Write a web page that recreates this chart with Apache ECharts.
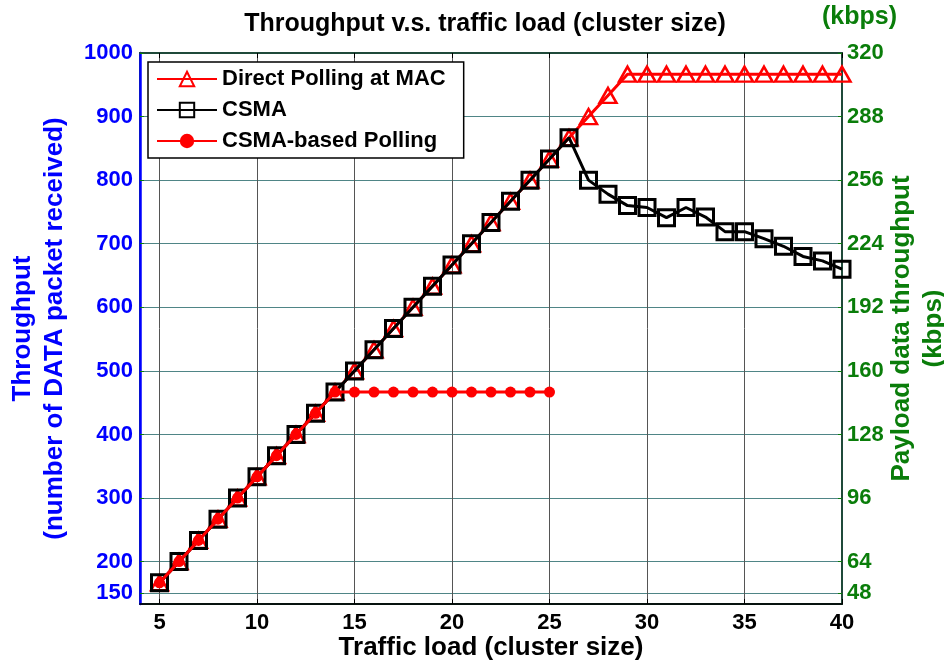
<!DOCTYPE html>
<html><head><meta charset="utf-8">
<script src="https://cdn.jsdelivr.net/npm/echarts@6/dist/echarts.min.js"></script>
<style>html,body{margin:0;padding:0;background:#fff}#c{width:944px;height:667px}</style>
</head><body><div id="c"></div>
<script>
const loads = [5,6,7,8,9,10,11,12,13,14,15,16,17,18,19,20,21,22,23,24,25,26,27,28,29,30,31,32,33,34,35,36,37,38,39,40];
const directPolling = [166.7,200,233.3,266.7,300,333.3,366.7,400,433.3,466.7,500,533.3,566.7,600,633.3,666.7,700,733.3,766.7,800,833.3,866.7,900,933.3,966.7,966.7,966.7,966.7,966.7,966.7,966.7,966.7,966.7,966.7,966.7,966.7];
const csma = [166.7,200,233.3,266.7,300,333.3,366.7,400,433.3,466.7,500,533.3,566.7,600,633.3,666.7,700,733.3,766.7,800,833.3,866.7,800,778,760,757,741,757,742,719,719,708,696,680,673,660];
const csmaPolling = [166.7,200,233.3,266.7,300,333.3,366.7,400,433.3,466.7,466.7,466.7,466.7,466.7,466.7,466.7,466.7,466.7,466.7,466.7,466.7];
const xTicks = [5,10,15,20,25,30,35,40];
const leftTicks = [150,200,300,400,500,600,700,800,900,1000];
const rightTicks = [48,64,96,128,160,192,224,256,288,320];
const leftMin = 133.33, leftMax = 1000, kbpsPerPacket = 0.32;

const BLUE = '#0000ff', GREEN = '#0a7d0a', FONT = 'Liberation Sans';
const pairs = (ys) => ys.map((y, i) => [loads[i], y]);

const chart = echarts.init(document.getElementById('c'), null, {renderer: 'canvas'});
chart.setOption({
  animation: false,
  backgroundColor: '#fff',
  title: {
    text: 'Throughput v.s. traffic load (cluster size)',
    left: 480, top: 7, textAlign: 'center',
    textStyle: {fontFamily: FONT, fontWeight: 'bold', fontSize: 25, color: '#000'}
  },
  graphic: [{
    type: 'text', left: 822, top: 5,
    style: {text: '(kbps)', fontFamily: FONT, fontWeight: 'bold', fontSize: 25, fill: GREEN}
  }],
  grid: {left: 140, right: 102, top: 53, bottom: 63, outerBoundsMode: 'none', containLabel: false,
    show: true, borderColor: '#1f4a3a', borderWidth: 2, backgroundColor: 'transparent'},
  legend: {
    orient: 'vertical', left: 148, top: 62, itemGap: 9, itemWidth: 60, itemHeight: 18,
    padding: [6, 18, 6, 8], borderColor: '#000', borderWidth: 1.5, backgroundColor: '#fff',
    textStyle: {fontFamily: FONT, fontWeight: 'bold', fontSize: 22, color: '#000'},
    data: ['Direct Polling at MAC', 'CSMA', 'CSMA-based Polling']
  },
  xAxis: [{
    type: 'value', min: 4, max: 40,
    name: 'Traffic load (cluster size)', nameLocation: 'middle', nameGap: 31, nameMoveOverlap: false,
    nameTextStyle: {fontFamily: FONT, fontWeight: 'bold', fontSize: 26, color: '#000'},
    axisLine: {show: true, onZero: false, lineStyle: {color: '#000', width: 1.5}},
    axisTick: {show: true, inside: true, length: 5, customValues: xTicks, lineStyle: {color: '#000'}},
    axisLabel: {customValues: xTicks, fontFamily: FONT, fontWeight: 'bold', fontSize: 22, color: '#000', margin: 8},
    splitLine: {show: true, lineStyle: {color: '#555', width: 1}}
  }, {
    type: 'value', min: 4, max: 40, position: 'top',
    axisLine: {show: true, lineStyle: {color: '#1f4a3a', width: 2}},
    axisTick: {show: true, inside: true, length: 5, customValues: xTicks, lineStyle: {color: '#000'}},
    axisLabel: {show: false}, splitLine: {show: false}
  }],
  yAxis: [{
    type: 'value', min: leftMin, max: leftMax, position: 'left',
    name: 'Throughput\n(number of DATA packet received)', nameLocation: 'middle', nameGap: 69, nameRotate: 90, nameMoveOverlap: false,
    nameTextStyle: {fontFamily: FONT, fontWeight: 'bold', fontSize: 26, color: BLUE, lineHeight: 32},
    axisLine: {show: true, lineStyle: {color: BLUE, width: 2.5}},
    axisTick: {show: true, inside: true, length: 4, customValues: leftTicks, lineStyle: {color: GREEN}},
    axisLabel: {customValues: leftTicks, formatter: (v) => String(v), fontFamily: FONT, fontWeight: 'bold', fontSize: 22, color: BLUE, margin: 7},
    splitLine: {show: true, lineStyle: {color: '#4f8586', width: 1}}
  }, {
    type: 'value', min: leftMin * kbpsPerPacket, max: leftMax * kbpsPerPacket, position: 'right',
    name: 'Payload data throughput\n(kbps)', nameLocation: 'middle', nameGap: 44, nameRotate: 90, nameMoveOverlap: false,
    nameTextStyle: {fontFamily: FONT, fontWeight: 'bold', fontSize: 26, color: GREEN, lineHeight: 32},
    axisLine: {show: true, lineStyle: {color: '#1f4a3a', width: 2}},
    axisTick: {show: true, inside: true, length: 4, customValues: rightTicks, lineStyle: {color: GREEN}},
    axisLabel: {customValues: rightTicks, formatter: (v) => String(v), fontFamily: FONT, fontWeight: 'bold', fontSize: 22, color: GREEN, margin: 5},
    splitLine: {show: false}
  }],
  series: [{
    name: 'Direct Polling at MAC', type: 'line', data: pairs(directPolling),
    symbol: 'triangle', symbolSize: [17, 15],
    lineStyle: {color: '#ff0000', width: 3},
    itemStyle: {color: 'rgba(0,0,0,0)', borderColor: '#ff0000', borderWidth: 2.5},
    z: 2
  }, {
    name: 'CSMA', type: 'line', data: pairs(csma),
    symbol: 'rect', symbolSize: 16,
    lineStyle: {color: '#000', width: 3},
    itemStyle: {color: 'rgba(0,0,0,0)', borderColor: '#000', borderWidth: 3},
    z: 3
  }, {
    name: 'CSMA-based Polling', type: 'line', data: pairs(csmaPolling),
    symbol: 'circle', symbolSize: 11,
    lineStyle: {color: '#ff0000', width: 3},
    itemStyle: {color: '#ff0000', borderColor: '#ff0000', borderWidth: 0},
    z: 4
  }]
});
</script></body></html>
